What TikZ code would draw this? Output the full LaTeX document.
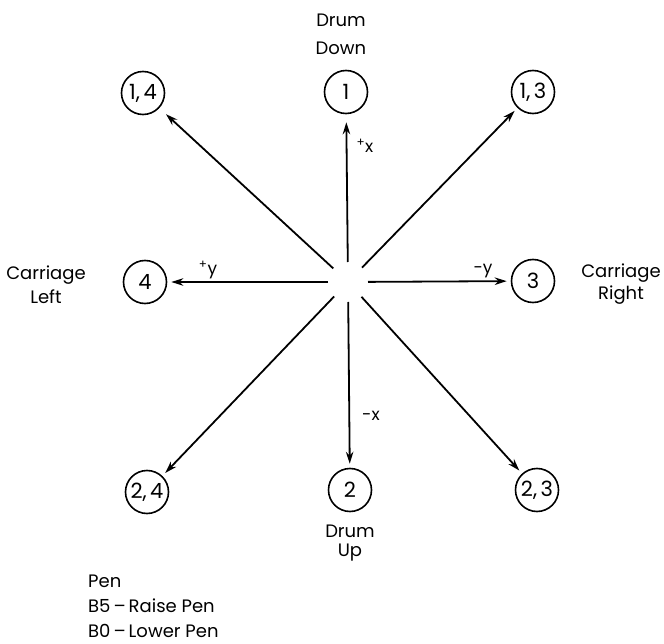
\documentclass[tikz,border=0pt]{standalone}
\usepackage{fontspec}
\setmainfont{Poppins}
\usetikzlibrary{arrows.meta}
\begin{document}
\begin{tikzpicture}[x=1pt,y=-1pt,>={Stealth[length=12pt,width=7.5pt]},
  penpos/.style={draw,circle,line width=1.6pt,minimum size=43pt,inner sep=0pt,font=\fontsize{21}{22}\selectfont},
  move/.style={->,line width=1.8pt,shorten <=20pt,shorten >=4pt},
  lbl/.style={font=\fontsize{18}{20}\selectfont,align=center,inner sep=0pt},
  dir/.style={font=\fontsize{17}{19}\selectfont,inner sep=0pt}]
\useasboundingbox (0,0) rectangle (664,644);

\coordinate (hub) at (348,282);

% pen positions
\node[penpos] (p1)  at (346,92)  {1};
\node[penpos] (p14) at (143,93)  {1,\,4};
\node[penpos] (p13) at (533,92)  {1,\,3};
\node[penpos] (p4)  at (145,282) {4};
\node[penpos] (p3)  at (533,281) {3};
\node[penpos] (p24) at (147,492) {2,\,4};
\node[penpos] (p2)  at (350,490) {2};
\node[penpos] (p23) at (537,490) {2,\,3};

% steps
\draw[move,shorten >=8pt] (hub) -- (p1);
\draw[move,shorten >=9pt] (hub) -- (p14);
\draw[move] (hub) -- (p13);
\draw[move] (hub) -- (p4);
\draw[move] (hub) -- (p3);
\draw[move] (hub) -- (p24);
\draw[move] (hub) -- (p2);
\draw[move] (hub) -- (p23);

\node[dir] (px) at (365,146) {\textsuperscript{+}x};
\node[dir] (py) at (208,270) {\textsuperscript{+}y};
\node[dir] (my) at (483,271) {-y};
\node[dir] (mx) at (371,416) {-x};

\node[lbl] (drumdown) at (341,34)  {Drum\\[8pt]Down};
\node[lbl] (carleft)  at (46,285)  {Carriage\\[4pt]Left};
\node[lbl] (carright) at (621,284) {Carriage\\[2pt]Right};
\node[lbl] (drumup)   at (350,543) {Drum\\[-1pt]Up};

\node[lbl,align=left,anchor=north west] (pen) at (88,575)
  {Pen\\[5pt]B5\,--\,Raise Pen\\[5pt]B0\,--\,Lower Pen};
\end{tikzpicture}
\end{document}
